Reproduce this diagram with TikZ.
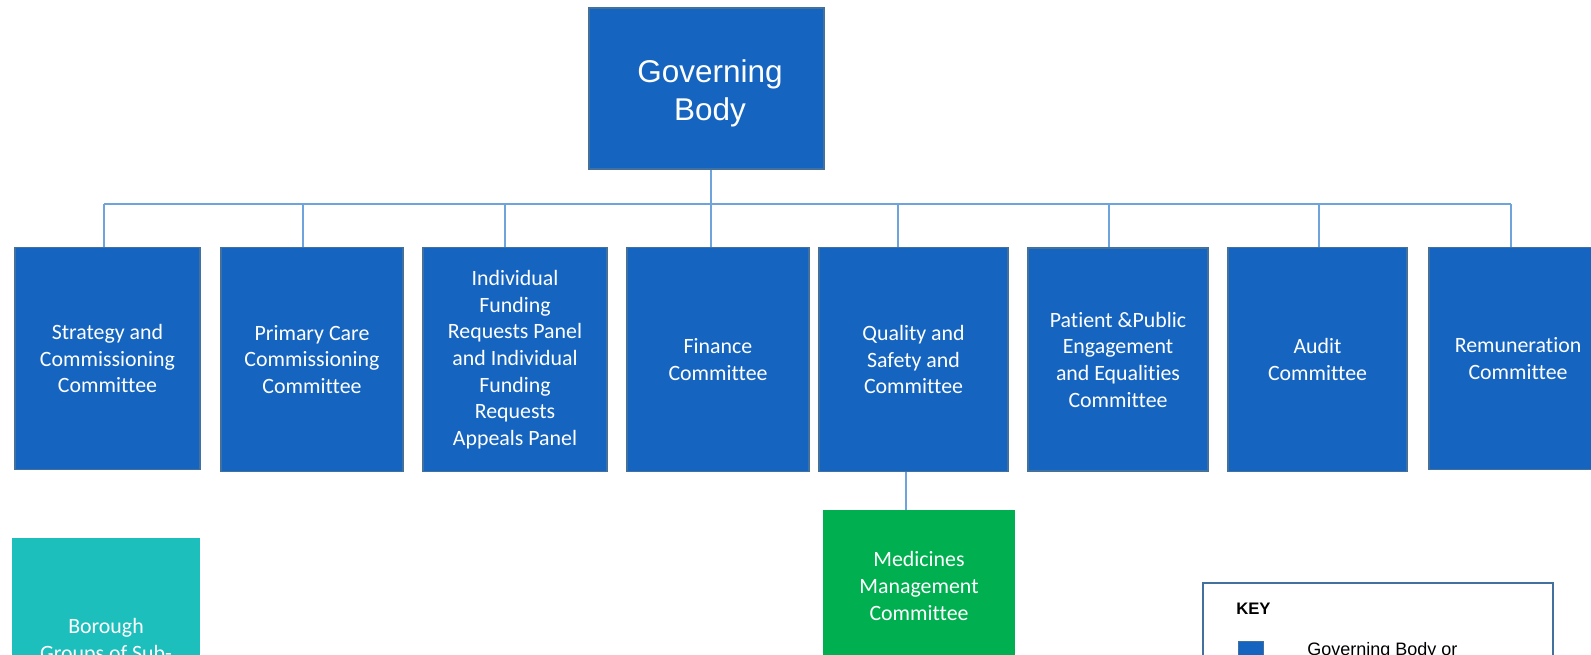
\documentclass[tikz,border=0pt]{standalone}
\usepackage{fontspec}
\setmainfont[Ligatures=NoCommon]{Carlito}
\newfontfamily\arial{Liberation Sans}
\definecolor{boxblue}{HTML}{1565C0}
\definecolor{boxedge}{HTML}{41719C}
\definecolor{linkblue}{HTML}{6FA3DC}
\definecolor{medgreen}{HTML}{00B050}
\definecolor{tealbox}{HTML}{1CBFBC}
\begin{document}
\begin{tikzpicture}[x=0.75pt,y=-0.75pt,
  box/.style={rectangle, fill=boxblue, draw=boxedge, line width=1.2pt, text=white,
    align=center, font=\fontsize{16.4}{20}\selectfont, inner sep=0pt},
  conn/.style={draw=linkblue, line width=0.9pt}]
\useasboundingbox (0,0) rectangle (1591,654);
\clip (0,0) rectangle (1591,654);
\fill[white] (0,0) rectangle (1591,654);

% top
\node[box, minimum width=176.25pt, minimum height=120.75pt] (gb) at (706.5,88.5) {};
\node[text=white, align=center, inner sep=0pt,
  font=\arial\fontsize{23.6}{28.5}\selectfont] (gbt) at (710,93) {Governing\\Body};

% committees
\node[box, minimum width=138.75pt, minimum height=166.5pt] (strat) at (107.5,358.5) {Strategy and\\Commissioning\\Committee};
\node[box, minimum width=136.5pt, minimum height=168pt] (prim) at (312,359.5) {Primary Care\\Commissioning\\Committee};
\node[box, minimum width=138pt, minimum height=168pt] (ifr) at (515,359.5) {Individual\\Funding\\Requests Panel\\and Individual\\Funding\\Requests\\Appeals Panel};
\node[box, minimum width=136.5pt, minimum height=168pt] (fin) at (718,359.5) {Finance\\Committee};
\node[box, minimum width=141.75pt, minimum height=168pt] (qual) at (913.5,359.5) {Quality and\\Safety and\\Committee};
\node[box, minimum width=135pt, minimum height=167.25pt] (pat) at (1118,359.5) {Patient \&Public\\Engagement\\and Equalities\\Committee};
\node[box, minimum width=134.25pt, minimum height=168pt] (aud) at (1317.5,359.5) {Audit\\Committee};
\node[box, minimum width=133.5pt, minimum height=166.5pt] (rem) at (1518,358.5) {Remuneration\\Committee};

% lower boxes
\node[box, fill=medgreen, draw=medgreen, minimum width=142.5pt, minimum height=112.5pt] (med) at (919,586) {Medicines\\Management\\Committee};
\node[box, fill=tealbox, draw=tealbox, minimum width=139.5pt, minimum height=153pt] (bor) at (106,641) {Borough\\Groups of Sub-};

% connectors
\coordinate (busL) at (104,204);
\coordinate (busR) at (1511,204);
\draw[conn] ([xshift=3.4pt]gb.south) -- ([xshift=3.4pt]gb.south |- fin.north);
\draw[conn] (busL) -- (busR);
\draw[conn] ([xshift=-2.6pt]strat.north) -- ([xshift=-2.6pt]strat.north |- busL);
\draw[conn] ([xshift=-6.75pt]prim.north) -- ([xshift=-6.75pt]prim.north |- busL);
\draw[conn] ([xshift=-7.5pt]ifr.north) -- ([xshift=-7.5pt]ifr.north |- busL);
\draw[conn] ([xshift=-11.6pt]qual.north) -- ([xshift=-11.6pt]qual.north |- busL);
\draw[conn] ([xshift=-6.75pt]pat.north) -- ([xshift=-6.75pt]pat.north |- busL);
\draw[conn] ([xshift=1.1pt]aud.north) -- ([xshift=1.1pt]aud.north |- busL);
\draw[conn] ([xshift=-5.25pt]rem.north) -- ([xshift=-5.25pt]rem.north |- busR);
\draw[conn] ([xshift=-5.6pt]qual.south) -- ([xshift=-5.6pt]qual.south |- med.north);

% key
\node[draw=boxedge, line width=1.5pt, minimum width=262.5pt, minimum height=90pt,
  anchor=north west, inner sep=0pt] (key) at (1202,582) {};
\node[font=\arial\bfseries\fontsize{12.5}{14}\selectfont, anchor=base west, inner sep=0pt] (keyt) at (1236,614) {KEY};
\node[fill=boxblue, draw=boxedge, line width=0.8pt, minimum size=18.75pt,
  anchor=north west, inner sep=0pt] (ksq) at (1238,641) {};
\node[font=\arial\fontsize{13.5}{16}\selectfont, anchor=base west, inner sep=0pt] (kt) at (1307,655) {Governing Body or};
\end{tikzpicture}
\end{document}
